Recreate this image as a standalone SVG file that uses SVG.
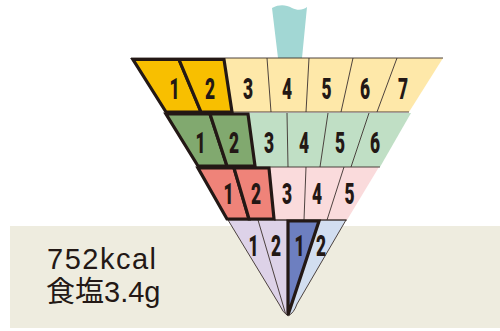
<svg xmlns="http://www.w3.org/2000/svg" width="500" height="331" viewBox="0 0 500 331">
  <style>
    .thin { stroke: #3a2f2b; stroke-width: 0.9; fill: none; }
    .bold { stroke: #231815; stroke-width: 3.2; stroke-linejoin: miter; }
    .num { font-family: Roboto, "Liberation Sans", sans-serif; font-weight: 900; font-size: 29px; fill: #231815; text-anchor: middle; }
    .info { font-family: "Liberation Sans", "Noto Sans CJK JP", sans-serif; font-size: 29px; fill: #231815; }
    .y1 { fill: #f8bf00; } .y2 { fill: #fee8a9; }
    .g1 { fill: #81a96f; } .g2 { fill: #c0dfc5; }
    .r1 { fill: #ef8379; } .r2 { fill: #fadbdc; }
    .p2 { fill: #ddd2e8; } .b1 { fill: #6d7fc0; } .b2 { fill: #d2def0; }
  </style>

  <!-- panel behind the totals -->
  <rect x="10" y="226" width="490" height="102" fill="#eeecdf"/>

  <!-- straw -->
  <path d="M272,8 C280,4 286,5 292,8 C298,11 303,10 307,7 L302,58 L278,58 Z" fill="#a2d7d4"/>

  <!-- band 1 -->
  <g id="band1-cell3"><polygon class="y2" points="224,58 267,58 271,112 232,112"/><text class="num" transform="translate(248,99) scale(0.6,1)">3</text></g>
  <g id="band1-cell4"><polygon class="y2" points="267,58 309,58 306,112 271,112"/><text class="num" transform="translate(287,99) scale(0.6,1)">4</text></g>
  <g id="band1-cell5"><polygon class="y2" points="309,58 353,58 341,112 306,112"/><text class="num" transform="translate(326.5,99) scale(0.6,1)">5</text></g>
  <g id="band1-cell6"><polygon class="y2" points="353,58 397,58 377,112 341,112"/><text class="num" transform="translate(365,99) scale(0.6,1)">6</text></g>
  <g id="band1-cell7"><polygon class="y2" points="397,58 443,58 409,112 377,112"/><text class="num" transform="translate(403,99) scale(0.6,1)">7</text></g>

  <!-- band 2 -->
  <g id="band2-cell3"><polygon class="g2" points="248,113 287,113 288,167 255,167"/><text class="num" transform="translate(269,152.5) scale(0.6,1)">3</text></g>
  <g id="band2-cell4"><polygon class="g2" points="287,113 328,113 320,167 288,167"/><text class="num" transform="translate(304,152.5) scale(0.6,1)">4</text></g>
  <g id="band2-cell5"><polygon class="g2" points="328,113 369,113 351,167 320,167"/><text class="num" transform="translate(340,152.5) scale(0.6,1)">5</text></g>
  <g id="band2-cell6"><polygon class="g2" points="369,113 411,113 380,167 351,167"/><text class="num" transform="translate(375,152.5) scale(0.6,1)">6</text></g>

  <!-- band 3 -->
  <g id="band3-cell3"><polygon class="r2" points="269,167 306,167 304,220 274,220"/><text class="num" transform="translate(287,203.5) scale(0.6,1)">3</text></g>
  <g id="band3-cell4"><polygon class="r2" points="306,167 344,167 327,220 304,220"/><text class="num" transform="translate(317,203.5) scale(0.6,1)">4</text></g>
  <g id="band3-cell5"><polygon class="r2" points="344,167 379,167 347,220 327,220"/><text class="num" transform="translate(349.5,203.5) scale(0.6,1)">5</text></g>

  <!-- band 4 -->
  <g id="band4-cell1"><path class="p2" d="M228,220 L258,220 L285.5,313.5 Q282,311 279,304 Z"/><text class="num" transform="translate(253.5,256) scale(0.6,1)">1</text></g>
  <g id="band4-cell2"><path class="p2" d="M258,220 L288,220 L288,316 Q286.5,315 285.5,313.5 Z"/><text class="num" transform="translate(276,256) scale(0.6,1)">2</text></g>
  <g id="band4-cell4"><path class="b2" d="M319,220 L346,220 L297,304 Q294,313 288,316 Z"/><text class="num" transform="translate(321,256) scale(0.6,1)">2</text></g>

  <!-- divider lines and outer edges -->
  <g id="connectors">
    <path class="thin" stroke="#6b6360" d="M131,58 H443"/>
    <path class="thin" d="M232,112 H409 M255,167 H380 M274,220 H347"/>
    <path class="thin" d="M267,58 L271,112 M309,58 L306,112 M353,58 L341,112 M397,58 L377,112"/>
    <path class="thin" d="M287,113 L288,167 M328,113 L320,167 M369,113 L351,167"/>
    <path class="thin" d="M306,167 L304,220 M344,167 L327,220"/>
    <path class="thin" d="M228,220 L279,304 Q283,313 288,316 Q294,313 297,304 L346,220 Z M258,220 L285.5,313.5"/>
  </g>

  <!-- highlighted cells -->
  <g id="band1-cell1"><polygon class="y1 bold" points="133,59.5 179,59.5 201,112 166,112"/><text class="num" transform="translate(174.5,99) scale(0.6,1)">1</text></g>
  <g id="band1-cell2"><polygon class="y1 bold" points="179,59.5 224,59.5 232,112 201,112"/><text class="num" transform="translate(210,99) scale(0.6,1)">2</text></g>
  <g id="band2-cell1"><polygon class="g1 bold" points="166,114 210,114 227,166 198,166"/><text class="num" transform="translate(200.5,152.5) scale(0.6,1)">1</text></g>
  <g id="band2-cell2"><polygon class="g1 bold" points="210,114 248,114 255,166 227,166"/><text class="num" transform="translate(234,152.5) scale(0.6,1)">2</text></g>
  <g id="band3-cell1"><polygon class="r1 bold" points="198,168 234,168 249,219 227,219"/><text class="num" transform="translate(228.5,203.5) scale(0.6,1)">1</text></g>
  <g id="band3-cell2"><polygon class="r1 bold" points="234,168 269,168 274,219 249,219"/><text class="num" transform="translate(256,203.5) scale(0.6,1)">2</text></g>
  <g id="band4-cell3"><polygon class="b1 bold" points="288,221 319,221 288,315"/><text class="num" transform="translate(299.5,256) scale(0.6,1)">1</text></g>

  <!-- totals -->
  <g id="totals">
    <text class="info" x="47" y="269" letter-spacing="1.5">752kcal</text>
    <text class="info" x="46" y="302">食塩3.4g</text>
  </g>
</svg>
